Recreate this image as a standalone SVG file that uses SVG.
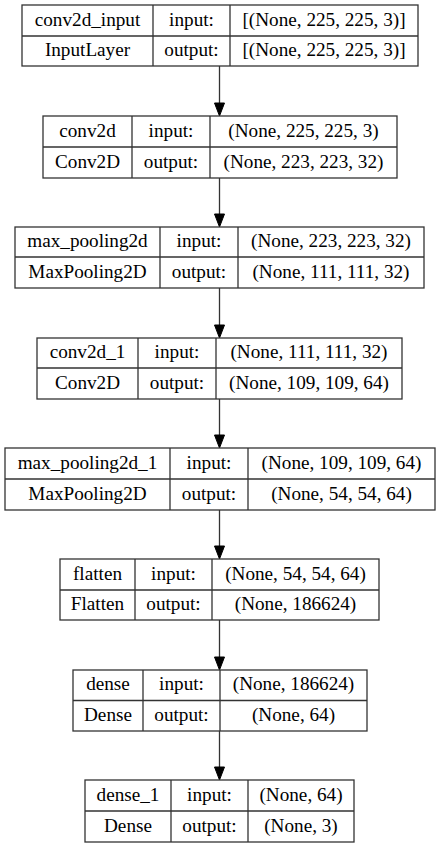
<svg xmlns="http://www.w3.org/2000/svg" width="440" height="848" viewBox="0 0 440 848" font-family="'Liberation Serif', 'DejaVu Serif', serif">
<style>
.b{fill:#fff;stroke:#333;stroke-width:1.3}
.l{stroke:#333;stroke-width:1.3;fill:none}
.h{fill:#000;stroke:#000;stroke-width:1}
text{font-family:'Liberation Serif','DejaVu Serif',serif;font-size:19.2px;fill:#000;text-anchor:middle}
</style>
<rect width="440" height="848" fill="#fff"/>
<g id="edges">
<line class="l" x1="219.5" y1="66" x2="219.5" y2="103"/>
<path class="h" d="M214.5,103 L224.5,103 L219.5,116 Z"/>
<line class="l" x1="219.5" y1="178" x2="219.5" y2="214"/>
<path class="h" d="M214.5,214 L224.5,214 L219.5,227 Z"/>
<line class="l" x1="219.5" y1="288" x2="219.5" y2="325"/>
<path class="h" d="M214.5,325 L224.5,325 L219.5,338 Z"/>
<line class="l" x1="219.5" y1="399" x2="219.5" y2="435"/>
<path class="h" d="M214.5,435 L224.5,435 L219.5,448 Z"/>
<line class="l" x1="219.5" y1="510" x2="219.5" y2="546"/>
<path class="h" d="M214.5,546 L224.5,546 L219.5,559 Z"/>
<line class="l" x1="219.5" y1="620" x2="219.5" y2="657"/>
<path class="h" d="M214.5,657 L224.5,657 L219.5,670 Z"/>
<line class="l" x1="219.5" y1="731" x2="219.5" y2="767"/>
<path class="h" d="M214.5,767 L224.5,767 L219.5,780 Z"/>
</g>
<g id="conv2d_input">
<rect class="b" x="22" y="5" width="396" height="61"/>
<path class="l" d="M22,36H418M153,5V66M230,5V66"/>
<text x="87.5" y="25.5">conv2d_input</text><text x="191.5" y="25.5">input:</text><text x="324" y="25.5">[(None, 225, 225, 3)]</text>
<text x="87.5" y="56">InputLayer</text><text x="191.5" y="56">output:</text><text x="324" y="56">[(None, 225, 225, 3)]</text>
</g>
<g id="conv2d">
<rect class="b" x="43" y="116" width="354" height="62"/>
<path class="l" d="M43,147H397M132,116V178M210,116V178"/>
<text x="87.5" y="136.5">conv2d</text><text x="171" y="136.5">input:</text><text x="303.5" y="136.5">(None, 225, 225, 3)</text>
<text x="87.5" y="167.5">Conv2D</text><text x="171" y="167.5">output:</text><text x="303.5" y="167.5">(None, 223, 223, 32)</text>
</g>
<g id="max_pooling2d">
<rect class="b" x="15" y="227" width="409" height="61"/>
<path class="l" d="M15,257H424M160,227V288M238,227V288"/>
<text x="87.5" y="247">max_pooling2d</text><text x="199" y="247">input:</text><text x="331" y="247">(None, 223, 223, 32)</text>
<text x="87.5" y="277.5">MaxPooling2D</text><text x="199" y="277.5">output:</text><text x="331" y="277.5">(None, 111, 111, 32)</text>
</g>
<g id="conv2d_1">
<rect class="b" x="37" y="338" width="365" height="61"/>
<path class="l" d="M37,368H402M138,338V399M216,338V399"/>
<text x="87.5" y="358">conv2d_1</text><text x="177" y="358">input:</text><text x="309" y="358">(None, 111, 111, 32)</text>
<text x="87.5" y="388.5">Conv2D</text><text x="177" y="388.5">output:</text><text x="309" y="388.5">(None, 109, 109, 64)</text>
</g>
<g id="max_pooling2d_1">
<rect class="b" x="5" y="448" width="430" height="62"/>
<path class="l" d="M5,479H435M170,448V510M248,448V510"/>
<text x="87.5" y="468.5">max_pooling2d_1</text><text x="209" y="468.5">input:</text><text x="341.5" y="468.5">(None, 109, 109, 64)</text>
<text x="87.5" y="499.5">MaxPooling2D</text><text x="209" y="499.5">output:</text><text x="341.5" y="499.5">(None, 54, 54, 64)</text>
</g>
<g id="flatten">
<rect class="b" x="60" y="559" width="319" height="61"/>
<path class="l" d="M60,590H379M135,559V620M212,559V620"/>
<text x="97.5" y="579.5">flatten</text><text x="173.5" y="579.5">input:</text><text x="295.5" y="579.5">(None, 54, 54, 64)</text>
<text x="97.5" y="610">Flatten</text><text x="173.5" y="610">output:</text><text x="295.5" y="610">(None, 186624)</text>
</g>
<g id="dense">
<rect class="b" x="73" y="670" width="294" height="61"/>
<path class="l" d="M73,700.5H367M143,670V731M220,670V731"/>
<text x="108" y="690.3">dense</text><text x="181.5" y="690.3">input:</text><text x="293.5" y="690.3">(None, 186624)</text>
<text x="108" y="720.8">Dense</text><text x="181.5" y="720.8">output:</text><text x="293.5" y="720.8">(None, 64)</text>
</g>
<g id="dense_1">
<rect class="b" x="85" y="780" width="269" height="62"/>
<path class="l" d="M85,811H354M171,780V842M248,780V842"/>
<text x="128" y="800.5">dense_1</text><text x="209.5" y="800.5">input:</text><text x="301" y="800.5">(None, 64)</text>
<text x="128" y="831.5">Dense</text><text x="209.5" y="831.5">output:</text><text x="301" y="831.5">(None, 3)</text>
</g>
</svg>
